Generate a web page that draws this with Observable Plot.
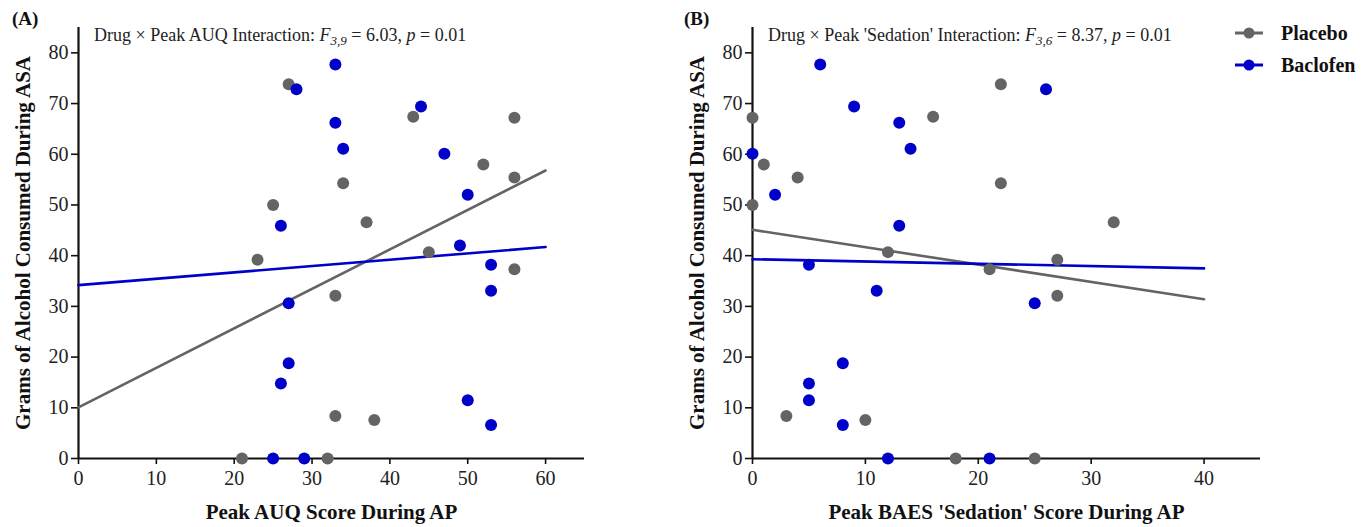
<!DOCTYPE html>
<html><head><meta charset="utf-8">
<script src="https://cdn.jsdelivr.net/npm/d3@7"></script>
<script src="https://cdn.jsdelivr.net/npm/@observablehq/plot@0.6"></script>
<style>
body{margin:0;background:#fff;}
#wrap{position:relative;width:1371px;height:527px;overflow:hidden;background:#fff;}
.panel{position:absolute;top:0;}
</style></head><body>
<div id="wrap"><div class="panel" id="a" style="left:0"></div><div class="panel" id="b" style="left:680px"></div></div>
<script>
// ---- data ----
const series = ["Placebo", "Baclofen"];
const colors = ["#646464", "#0000c8"];
const yTicks = [0, 10, 20, 30, 40, 50, 60, 70, 80];

// Panel A: Peak AUQ score
const auqTicks = [0, 10, 20, 30, 40, 50, 60];
const auqPlaceboX = [27, 25, 34, 37, 43, 23, 45, 52, 56, 56, 56, 33, 33, 38, 21, 32];
const auqPlaceboY = [73.8, 50, 54.3, 46.6, 67.4, 39.2, 40.7, 58, 67.2, 55.4, 37.3, 32.1, 8.4, 7.6, 0, 0];
const auqBaclofenX = [33, 28, 33, 34, 26, 44, 47, 50, 49, 53, 53, 27, 27, 26, 50, 53, 25, 29];
const auqBaclofenY = [77.7, 72.8, 66.2, 61.1, 45.9, 69.4, 60.1, 52, 42, 38.2, 33.1, 30.6, 18.8, 14.8, 11.5, 6.6, 0, 0];
const auqFitX = [0, 60];
const auqFitPlacebo = [10.1, 56.8];
const auqFitBaclofen = [34.2, 41.7];

// Panel B: Peak BAES 'Sedation' score
const sedTicks = [0, 10, 20, 30, 40];
const sedPlaceboX = [0, 1, 4, 0, 16, 22, 22, 32, 12, 27, 21, 27, 3, 10, 18, 25];
const sedPlaceboY = [67.2, 58, 55.4, 50, 67.4, 73.8, 54.3, 46.6, 40.7, 39.2, 37.3, 32.1, 8.4, 7.6, 0, 0];
const sedBaclofenX = [0, 2, 6, 9, 13, 14, 26, 13, 5, 11, 25, 8, 5, 5, 8, 12, 21];
const sedBaclofenY = [60.1, 52, 77.7, 69.4, 66.2, 61.1, 72.8, 45.9, 38.2, 33.1, 30.6, 18.8, 14.8, 11.5, 6.6, 0, 0];
const sedFitX = [0, 40];
const sedFitPlacebo = [45.1, 31.4];
const sedFitBaclofen = [39.3, 37.5];

const FONT = "'Liberation Serif', 'Times New Roman', serif";
const yLabel = "Grams of Alcohol Consumed During ASA";

function panel(o) {
  const pts = [
    ...o.pX.map((x, i) => ({x, y: o.pY[i], g: series[0]})),
    ...o.bX.map((x, i) => ({x, y: o.bY[i], g: series[1]}))
  ];
  const fit = [
    ...o.fitX.map((x, i) => ({x, y: o.fitP[i], g: series[0]})),
    ...o.fitX.map((x, i) => ({x, y: o.fitB[i], g: series[1]}))
  ];
  return Plot.plot({
    width: o.width, height: 527,
    marginLeft: o.marginLeft, marginRight: o.marginRight, marginTop: 27, marginBottom: 69,
    x: {domain: o.xDomain},
    y: {domain: [0, 85]},
    color: {domain: series, range: colors},
    style: {fontFamily: FONT, fontSize: "20px", color: "#222", background: "white", overflow: "visible"},
    marks: [
      Plot.axisX({ticks: o.xTicks, tickSize: 6, tickPadding: 6, label: null, stroke: "#111", strokeWidth: 1.6, fontSize: 20}),
      Plot.axisY({ticks: yTicks, tickSize: 7, tickPadding: 3, label: null, stroke: "#111", strokeWidth: 1.6, fontSize: 20}),
      Plot.ruleY([0], {stroke: "#111", strokeWidth: 2.2}),
      Plot.ruleX([0], {stroke: "#111", strokeWidth: 2.2}),
      Plot.line(fit, {x: "x", y: "y", z: "g", stroke: "g", strokeWidth: 2.6}),
      Plot.dot(pts, {x: "x", y: "y", fill: "g", r: 6}),
      Plot.text([o.xLabel], {frameAnchor: "bottom", textAnchor: "middle", lineAnchor: "middle", dy: 54, fontWeight: "bold", fontSize: 21, fill: "#111"}),
      Plot.text([yLabel], {frameAnchor: "left", textAnchor: "middle", lineAnchor: "middle", rotate: -90, dx: o.yLabelDx, fontWeight: "bold", fontSize: 21, fill: "#111"})
    ]
  });
}

function annotate(svg, o) {
  const s = d3.select(svg);
  s.append("text").attr("x", o.lx).attr("y", 25).attr("text-anchor", "start").attr("font-family", FONT).attr("font-size", 19)
    .attr("font-weight", "bold").attr("fill", "#111").text(o.letter);
  const t = s.append("text").attr("x", o.ax).attr("y", 41).attr("text-anchor", "start").attr("font-family", FONT)
    .attr("font-size", 18).attr("fill", "#222");
  t.append("tspan").text(o.pre);
  t.append("tspan").attr("font-style", "italic").text("F");
  t.append("tspan").attr("font-style", "italic").attr("font-size", 13).attr("dy", 4).text(o.df);
  t.append("tspan").attr("dy", -4).text(" = " + o.F + ", ");
  t.append("tspan").attr("font-style", "italic").text("p");
  t.append("tspan").text(" = " + o.p);
}

const svgA = panel({
  width: 680, marginLeft: 78, marginRight: 96, xDomain: [0, 65], xTicks: auqTicks,
  pX: auqPlaceboX, pY: auqPlaceboY, bX: auqBaclofenX, bY: auqBaclofenY,
  fitX: auqFitX, fitP: auqFitPlacebo, fitB: auqFitBaclofen,
  xLabel: "Peak AUQ Score During AP", yLabelDx: -55
});
annotate(svgA, {letter: "(A)", lx: 12, ax: 94, pre: "Drug × Peak AUQ Interaction: ", df: "3,9", F: "6.03", p: "0.01"});
document.getElementById("a").appendChild(svgA);

const svgB = panel({
  width: 691, marginLeft: 72, marginRight: 111, xDomain: [0, 45], xTicks: sedTicks,
  pX: sedPlaceboX, pY: sedPlaceboY, bX: sedBaclofenX, bY: sedBaclofenY,
  fitX: sedFitX, fitP: sedFitPlacebo, fitB: sedFitBaclofen,
  xLabel: "Peak BAES 'Sedation' Score During AP", yLabelDx: -55
});
annotate(svgB, {letter: "(B)", lx: 4, ax: 88, pre: "Drug × Peak 'Sedation' Interaction: ", df: "3,6", F: "8.37", p: "0.01"});

// legend
const lg = d3.select(svgB).append("g");
series.forEach((name, i) => {
  const y = 33 + i * 32;
  lg.append("line").attr("x1", 555).attr("x2", 583).attr("y1", y).attr("y2", y)
    .attr("stroke", colors[i]).attr("stroke-width", 3);
  lg.append("circle").attr("cx", 569).attr("cy", y).attr("r", 5.5).attr("fill", colors[i]);
  lg.append("text").attr("x", 601).attr("y", y).attr("dy", "0.35em").attr("text-anchor", "start").attr("font-family", FONT)
    .attr("font-size", 20).attr("font-weight", "bold").attr("fill", "#111").text(name);
});
document.getElementById("b").appendChild(svgB);
</script>
</body></html>
